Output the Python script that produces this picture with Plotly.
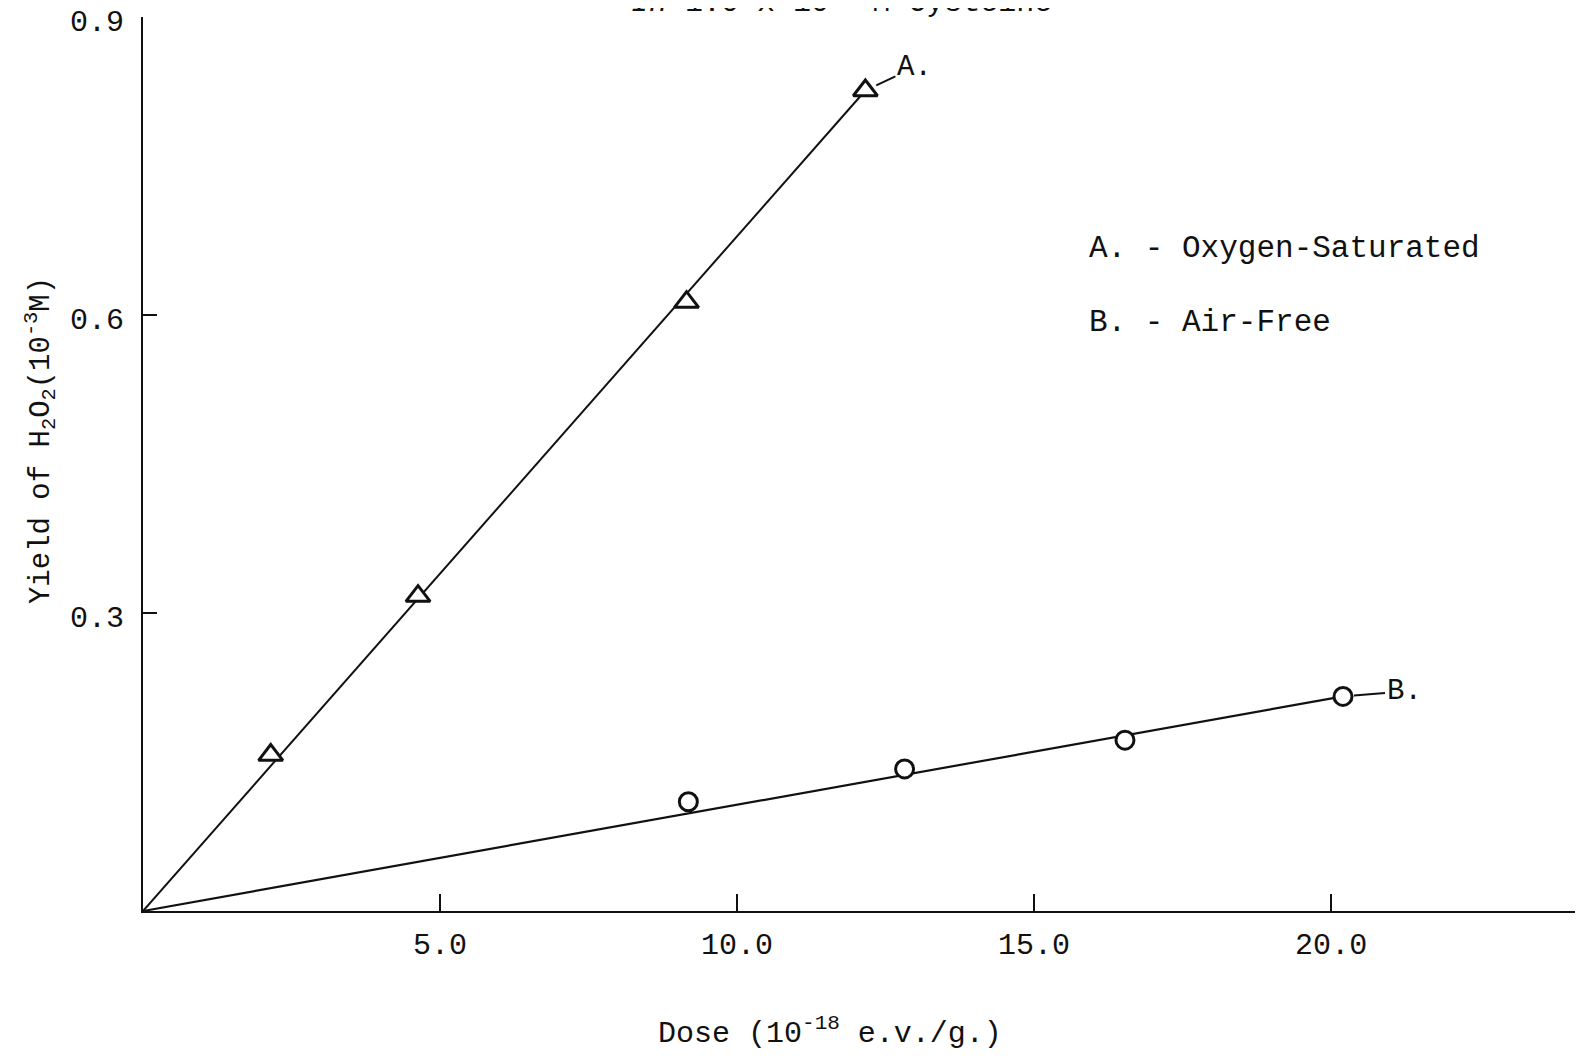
import plotly.graph_objects as go

# Series A: oxygen-saturated (triangles)
dose_a = [2.15, 4.63, 9.15, 12.16]
yield_a = [0.157, 0.317, 0.613, 0.826]
# Series B: air-free (circles)
dose_b = [9.18, 12.82, 16.53, 20.2]
yield_b = [0.110, 0.143, 0.172, 0.216]
# Fitted lines (through origin)
fit_a_x = [0, 12.16]
fit_a_y = [0, 0.826]
fit_b_x = [0, 20.2]
fit_b_y = [0, 0.216]

series_names = ["A. - Oxygen-Saturated", "B. - Air-Free"]
series_tags = ["A.", "B."]
x_ticks = [5, 10, 15, 20]
x_ticklabels = ["5.0", "10.0", "15.0", "20.0"]
y_ticks = [0.3, 0.6, 0.9]
y_ticklabels = ["0.3", "0.6", "0.9"]

FONT = "Courier New, Liberation Mono, DejaVu Sans Mono, monospace"
INK = "#111111"

fig = go.Figure()
fig.add_trace(go.Scatter(x=fit_a_x, y=fit_a_y, mode="lines",
                         line=dict(color=INK, width=2), showlegend=False, hoverinfo="skip"))
fig.add_trace(go.Scatter(x=fit_b_x, y=fit_b_y, mode="lines",
                         line=dict(color=INK, width=2.2), showlegend=False, hoverinfo="skip"))
fig.add_trace(go.Scatter(x=dose_a, y=yield_a, mode="markers", name=series_names[0],
                         marker=dict(symbol="triangle-up", size=21, color="white",
                                     line=dict(color=INK, width=3)),
                         showlegend=False))
fig.add_trace(go.Scatter(x=dose_b, y=yield_b, mode="markers", name=series_names[1],
                         marker=dict(symbol="circle", size=18, color="white",
                                     line=dict(color=INK, width=3)),
                         showlegend=False))

# Curve tags with leader lines
fig.add_annotation(x=dose_a[-1], y=yield_a[-1], text=series_tags[0], showarrow=True,
                   arrowhead=0, arrowwidth=2, arrowcolor=INK, ax=49, ay=-23, standoff=12,
                   font=dict(family=FONT, size=29, color=INK))
fig.add_annotation(x=dose_b[-1], y=yield_b[-1], text=series_tags[1], showarrow=True,
                   arrowhead=0, arrowwidth=2, arrowcolor=INK, ax=61, ay=-5, standoff=11,
                   font=dict(family=FONT, size=29, color=INK))

# Key text
fig.add_annotation(x=0.6556, y=0.7405, xref="paper", yref="paper", xanchor="left", yanchor="middle",
                   text=series_names[0], showarrow=False, font=dict(family=FONT, size=31, color=INK))
fig.add_annotation(x=0.6556, y=0.6585, xref="paper", yref="paper", xanchor="left", yanchor="middle",
                   text=series_names[1], showarrow=False, font=dict(family=FONT, size=31, color=INK))

# Title, cut off at top of page
fig.add_annotation(x=0.485, y=1.019, xref="paper", yref="paper", xanchor="center", yanchor="middle",
                   text="<i>In</i> 1.0 x 10<sup>-3</sup> M Cysteine", showarrow=False,
                   font=dict(family=FONT, size=30, color=INK))

# Axis titles
fig.add_annotation(x=0.477, y=-0.1353, xref="paper", yref="paper", xanchor="center", yanchor="middle",
                   text="Dose (10<sup>-18</sup> e.v./g.)", showarrow=False,
                   font=dict(family=FONT, size=30, color=INK))
fig.add_annotation(x=-0.0715, y=0.5257, xref="paper", yref="paper", xanchor="center", yanchor="middle",
                   text="Yield of H<sub>2</sub>O<sub>2</sub>(10<sup>-3</sup>M)", showarrow=False,
                   textangle=-90, font=dict(family=FONT, size=29, color=INK))

# The page body adds an 8 px offset; margins compensate for it.
fig.update_layout(
    width=1583, height=1061,
    margin=dict(l=135, r=8, t=9, b=158),
    paper_bgcolor="white", plot_bgcolor="white",
    font=dict(family=FONT, color=INK),
    showlegend=False,
)
fig.update_xaxes(range=[0, 24.24], showgrid=False, zeroline=False, automargin=False,
                 showline=True, linecolor=INK, linewidth=2,
                 tickmode="array", tickvals=x_ticks, ticktext=x_ticklabels,
                 ticks="inside", ticklen=17, tickwidth=2, tickcolor=INK,
                 ticklabelstandoff=5, ticklabeloverflow="allow",
                 tickfont=dict(family=FONT, size=30, color=INK))
fig.update_yaxes(range=[0, 0.9], showgrid=False, zeroline=False, automargin=False,
                 showline=True, linecolor=INK, linewidth=2,
                 tickmode="array", tickvals=y_ticks, ticktext=y_ticklabels,
                 ticks="inside", ticklen=14, tickwidth=2, tickcolor=INK,
                 ticklabelstandoff=11, ticklabelshift=3, ticklabeloverflow="allow",
                 tickfont=dict(family=FONT, size=30, color=INK))

fig.write_html("out.html")
